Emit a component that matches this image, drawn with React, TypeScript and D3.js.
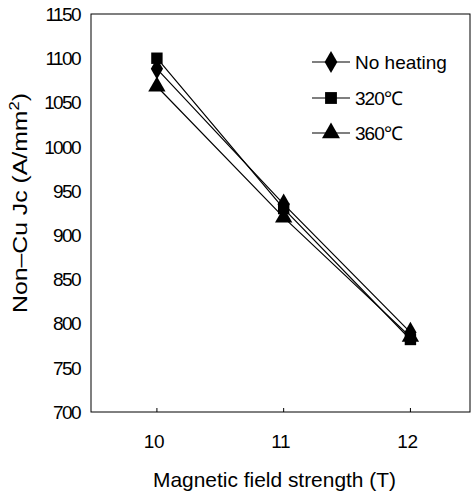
import React from "react";
import * as d3 from "d3";

// field strength (T)
const fields = [10, 11, 12];
const noHeating = [1088, 935, 790];
const heat320 = [1100, 930, 782];
const heat360 = [1068, 920, 785];
const yTicks = [700, 750, 800, 850, 900, 950, 1000, 1050, 1100, 1150];

const series = [
  { name: "No heating", values: noHeating, shape: d3.symbolDiamond },
  { name: "320\u2103", values: heat320, shape: d3.symbolSquare },
  { name: "360\u2103", values: heat360, shape: d3.symbolTriangle },
];

export default function App() {
  const W = 475, H = 496;
  const left = 91, right = 470, top = 14, bottom = 412;
  const x = d3.scaleLinear().domain([9.48, 12.47]).range([left, right]);
  const y = d3.scaleLinear().domain([700, 1150]).range([bottom, top]);
  const line = d3.line<number>().x((_, i) => x(fields[i])).y(d => y(d));
  const font = "'Liberation Sans', Arial, sans-serif";

  return (
    <svg width={W} height={H} style={{ position: "absolute", left: 0, top: 0 }} fontFamily={font}>
      <rect x={left} y={top} width={right - left} height={bottom - top} fill="none" stroke="#000" strokeWidth={1} />
      {yTicks.map(t => (
        <text key={t} x={left - 11} y={y(t)} dy="0.36em" textAnchor="end" fontSize={19} letterSpacing={-1.6}>{t}</text>
      ))}
      {fields.map(f => (
        <g key={f}>
          <line x1={x(f)} x2={x(f)} y1={bottom} y2={bottom - 4} stroke="#000" />
          <text x={x(f) - 3} y={bottom + 36} textAnchor="middle" fontSize={19} letterSpacing={-0.5}>{f}</text>
        </g>
      ))}
      <text x={153} y={487} fontSize={21} textLength={243} lengthAdjust="spacingAndGlyphs">Magnetic field strength (T)</text>
      <text transform={`translate(27, 313) rotate(-90)`} fontSize={21} textLength={220} lengthAdjust="spacingAndGlyphs">
        Non–Cu Jc (A/mm<tspan dy={-8} fontSize={14}>2</tspan><tspan dy={8}>)</tspan>
      </text>
      {series.map(s => (
        <g key={s.name}>
          <path d={line(s.values) || ""} fill="none" stroke="#000" strokeWidth={1.2} />
          {s.values.map((v, i) => (
            <path key={i} transform={`translate(${x(fields[i])},${y(v)})`} d={d3.symbol(s.shape, 130)() || ""} fill="#000" />
          ))}
        </g>
      ))}
      {series.map((s, i) => {
        const ly = [62, 98, 133][i];
        return (
          <g key={s.name}>
            <line x1={312} x2={350} y1={ly} y2={ly} stroke="#000" strokeWidth={1.2} />
            <path transform={`translate(331,${ly})`} d={d3.symbol(s.shape, 140)() || ""} fill="#000" />
            <text x={355} y={ly} dy="0.36em" fontSize={19} letterSpacing={s.name === "No heating" ? 0 : -1}>{s.name}</text>
          </g>
        );
      })}
    </svg>
  );
}
